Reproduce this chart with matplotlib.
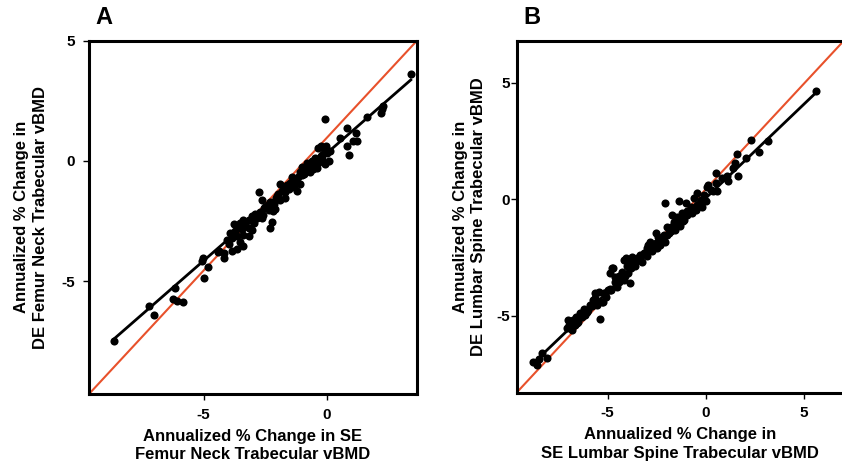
import matplotlib
matplotlib.use("Agg")
import matplotlib.pyplot as plt
import numpy as np

plt.rcParams["font.family"] = ["Liberation Sans", "DejaVu Sans"]
plt.rcParams["font.weight"] = "bold"

# Panel A: femur neck, SE (x) vs DE (y) annualized % change
se_fn = [-8.65, -7.23, -7.03, -6.15, -6.24, -6.08, -5.84, -5.07, -5.02, -4.97,
         -4.81, -4.42, -4.19,
         -0.07, 0.81, 1.17, 1.21, 1.05, 0.81, 0.92, 0.54, -0.36, -0.04,
         0.00, -0.20, 0.07, -0.07, -0.20, -0.34, -0.51, -0.68, -0.78, -0.88,
         -0.70, -0.94, -1.08, -1.15, -1.28, -1.42, -1.48, -1.62, -1.75, -1.55,
         -1.35, -1.21, -1.82, -1.96, -2.05, -1.89, -1.69, -2.16, -2.30, -2.40,
         -2.54, -2.36, -2.09, -2.74, -2.63, -2.70, -2.86, -3.04, -2.84, -2.63,
         -2.30, -2.23, -3.17, -3.38, -3.31, -3.51, -3.78, -3.58, -3.17, -3.04,
         -3.71, -3.91, -3.85, -3.65, -3.38, -3.17, -4.05, -3.98, -3.38, -3.65,
         -3.85, -4.18, -4.39, -3.54, -2.97, -1.89, -1.01, -0.81, -0.61, -0.47,
         -0.13, -0.24, -0.55, -1.00, -1.30, -1.70, -2.00, -2.50, -2.90, -3.30,
         -3.45, -1.10, -0.40, 0.15, -0.25, -2.20, -2.60, -3.00,
         1.62, 2.23, 2.20, 2.28, 3.41]
de_fn = [-7.47, -6.05, -6.39, -5.27, -5.75, -5.84, -5.87, -4.14, -4.05, -4.86,
         -4.42, -3.78, -4.04,
         1.73, 1.39, 1.16, 0.84, 0.84, 0.61, 0.25, 0.95, 0.54, 0.61,
         0.34, 0.24, 0.00, -0.14, 0.07, -0.07, -0.17, -0.27, -0.17, -0.34,
         -0.48, -0.54, -0.48, -0.68, -0.79, -0.68, -0.93, -0.98, -1.09, -1.16,
         -1.09, -1.25, -1.25, -1.36, -1.56, -1.63, -1.56, -1.77, -1.70, -1.84,
         -1.97, -2.04, -2.01, -1.29, -1.63, -2.11, -2.24, -2.31, -2.38, -2.38,
         -2.79, -2.52, -2.47, -2.45, -2.65, -2.59, -2.61, -2.79, -2.79, -2.86,
         -2.93, -2.99, -3.20, -3.13, -3.06, -3.13, -3.27, -3.47, -3.54, -3.67,
         -3.74, -3.81, -3.74, -3.37, -2.58, -0.95, -0.27, -0.07, 0.00, 0.14,
         0.48, 0.61, -0.35, -0.60, -0.90, -1.30, -1.45, -1.90, -2.20, -2.70,
         -2.85, -0.95, -0.30, 0.40, 0.20, -2.10, -2.25, -2.50,
         1.83, 2.17, 2.00, 2.30, 3.60]

# Panel B: lumbar spine
se_ls = [-8.60, -8.82, -8.35, -8.09, -8.50, -7.00, -6.83, -6.66, -6.75, -6.49,
         -6.32, -6.16, -5.99, -5.90, -5.65, -5.73, -5.48, -5.23, -5.14, -4.97,
         -4.81, -4.72, -4.64, -4.05, -3.88, -3.96, -4.30, -2.95, -2.45, -5.40,
         -2.10, -1.35, 0.51, 0.09, 0.38, -0.07, -0.24, 0.00, -0.60, -0.43,
         -0.77, -0.94, -0.68, -1.19, -1.45, -1.71, -1.11, -1.37, -1.62, -1.79,
         -1.54, -1.88, -2.13, -2.30, -2.05, -2.56, -2.82, -2.47, -2.73, -2.99,
         -3.16, -3.33, -3.50, -3.75, -3.92, -3.67, -4.18, -4.01, -4.78, -4.86,
         -4.27, -4.44, -4.18, -4.61, -4.52, -4.86, -5.21, -5.46, -5.63, -5.29,
         -5.55, -2.56, -1.96, -1.02, -0.43, -6.95, -6.60, -6.40, -7.05, -6.20,
         -3.10, -2.70, -1.25, -0.85, -0.30, -0.50, -0.95, -1.30, -1.60, -1.95,
         -2.20, -2.60, -3.00, -3.40, -3.60, -3.80, -4.10, -4.40, -4.90, -5.10,
         -5.80, -6.05, -6.55, -6.85, -1.15, -0.20, -1.75, -2.35, -3.25, -0.65,
         5.62, 2.31, 3.20, 2.70, 1.60, 1.65, 2.07, 1.52, 1.40, 1.10,
         1.13, 0.51, 0.84, 0.56, 0.25, 0.10]
de_ls = [-7.13, -6.99, -6.60, -6.84, -6.85, -5.19, -5.62, -5.41, -5.19, -5.27,
         -5.05, -4.98, -4.76, -4.55, -4.05, -4.33, -4.40, -4.40, -4.05, -3.90,
         -3.90, -2.97, -3.33, -2.54, -3.62, -3.19, -3.47, -1.97, -1.61, -5.15,
         -0.15, -0.07, 0.69, 0.54, 0.33, 0.18, -0.03, -0.10, 0.04, -0.24,
         -0.32, -0.53, -0.60, -0.60, -0.75, -0.67, -0.89, -1.03, -0.96, -1.18,
         -1.32, -1.46, -1.53, -1.72, -1.82, -1.89, -1.82, -2.11, -2.21, -2.11,
         -2.32, -2.39, -2.54, -2.47, -2.68, -2.75, -2.61, -2.89, -2.96, -3.18,
         -3.11, -3.32, -3.47, -3.54, -3.75, -3.90, -4.04, -3.97, -4.26, -4.40,
         -4.54, -1.46, -1.18, -0.17, 0.26, -5.40, -5.05, -4.90, -5.55, -4.70,
         -2.30, -2.05, -0.85, -0.55, -0.15, -0.45, -0.70, -1.15, -1.25, -1.55,
         -1.70, -2.00, -2.45, -2.60, -2.85, -2.95, -3.30, -3.55, -3.85, -4.20,
         -4.60, -4.85, -5.30, -5.50, -0.95, -0.35, -1.35, -1.95, -2.70, -0.40,
         4.66, 2.55, 2.48, 2.01, 1.95, 1.00, 1.76, 1.55, 1.33, 0.98,
         0.76, 1.12, 0.90, 0.37, 0.40, 0.62]

fit_a = (0.894, 0.32)
fit_b = (0.805, 0.04)

RED = "#e8512b"

fig = plt.figure(figsize=(8.42, 4.68), dpi=100)
ax1 = fig.add_axes([0.1057, 0.1581, 0.3895, 0.755])
ax2 = fig.add_axes([0.6137, 0.1613, 0.3885, 0.7517])


def draw(ax, x, y, fit, xlim, ylim, xticks, yticks, ypad):
    x = np.array(x)
    y = np.array(y)
    ax.plot([0, 1], [0, 1], transform=ax.transAxes, color=RED, lw=1.5, zorder=2)
    xs = np.array([x.min(), x.max()])
    ax.plot(xs, fit[0] * xs + fit[1], color="black", lw=2.0, zorder=3)
    ax.scatter(x, y, s=34, color="black", zorder=4, linewidths=0)
    ax.set_xlim(*xlim)
    ax.set_ylim(*ylim)
    ax.set_xticks(xticks)
    ax.set_yticks(yticks)
    ax.set_xticklabels([str(t) for t in xticks])
    ax.set_yticklabels([str(t) for t in yticks])
    for s in ax.spines.values():
        s.set_linewidth(2.2)
    ax.tick_params(direction="out", length=4, width=1, labelsize=11, pad=6)
    ax.tick_params(axis="y", pad=ypad)


draw(ax1, se_fn, de_fn, fit_a, (-9.65, 3.66), (-9.69, 5), [-5, 0], [-5, 0, 5], 6)
draw(ax2, se_ls, de_ls, fit_b, (-9.64, 7.05), (-8.3, 6.8), [-5, 0, 5], [-5, 0, 5], 1)

lab = dict(fontsize=12, fontweight="bold", linespacing=1.3)
ax1.set_xlabel("Annualized % Change in SE\nFemur Neck Trabecular vBMD", labelpad=5, **lab)
ax1.set_ylabel("Annualized % Change in\nDE Femur Neck Trabecular vBMD", labelpad=10, **lab)
ax2.set_xlabel("Annualized % Change in\nSE Lumbar Spine Trabecular vBMD", labelpad=5, **lab)
ax2.set_ylabel("Annualized % Change in\nDE Lumbar Spine Trabecular vBMD", labelpad=7, **lab)

fig.text(0.113, 0.963, "A", fontsize=17, fontweight="bold", va="center")
fig.text(0.622, 0.963, "B", fontsize=17, fontweight="bold", va="center")

fig.savefig("out.png", dpi=100)
